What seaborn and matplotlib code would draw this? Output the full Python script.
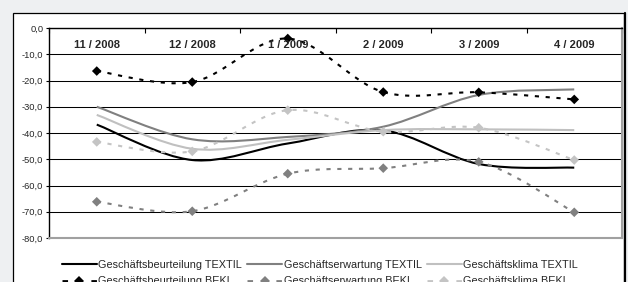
import numpy as np
import pandas as pd
import matplotlib
matplotlib.use("Agg")
import matplotlib.pyplot as plt
import seaborn as sns
from matplotlib.path import Path
from matplotlib.patches import PathPatch, Rectangle
from matplotlib.lines import Line2D
from matplotlib.ticker import FuncFormatter

# values
months = ["11 / 2008", "12 / 2008", "1 / 2009", "2 / 2009", "3 / 2009", "4 / 2009"]

beurteilung_textil = [-36.8, -50.3, -44.0, -39.0, -51.8, -53.2]
erwartung_textil = [-30.0, -42.4, -41.5, -37.6, -25.5, -23.4]
klima_textil = [-33.1, -46.0, -42.6, -38.9, -38.6, -38.9]

beurteilung_bekl = [-16.4, -20.6, -4.0, -24.4, -24.5, -27.2]
erwartung_bekl = [-66.2, -69.8, -55.5, -53.4, -51.0, -70.2]
klima_bekl = [-43.4, -47.0, -31.3, -39.5, -38.0, -50.3]

labels = [
    "Geschäftsbeurteilung TEXTIL", "Geschäftserwartung TEXTIL", "Geschäftsklima TEXTIL",
    "Geschäftsbeurteilung BEKL", "Geschäftserwartung BEKL", "Geschäftsklima BEKL",
]
values = [beurteilung_textil, erwartung_textil, klima_textil,
          beurteilung_bekl, erwartung_bekl, klima_bekl]
colors = ["#000000", "#808080", "#c0c0c0", "#000000", "#808080", "#c4c4c4"]
dashed = [False, False, False, True, True, True]

sns.set_theme(style="white")
plt.rcParams["font.family"] = ["Liberation Sans", "DejaVu Sans"]

DASH = (0, (2.0, 3.2))
LW = 1.5


def smooth_path(xs, ys):
    # Excel-like smoothed line: cubic Bezier through the points
    pts = np.column_stack([xs, ys]).astype(float)
    n = len(pts)
    verts = [pts[0]]
    codes = [Path.MOVETO]
    for i in range(n - 1):
        p0 = pts[max(i - 1, 0)]
        p1 = pts[i]
        p2 = pts[i + 1]
        p3 = pts[min(i + 2, n - 1)]
        verts += [p1 + (p2 - p0) / 6, p2 - (p3 - p1) / 6, p2]
        codes += [Path.CURVE4] * 3
    return Path(verts, codes)


fig = plt.figure(figsize=(6.28, 2.82), dpi=100, facecolor="#eef0f2")
W, H = 628, 282

# white chart area with frame
fig.patches.append(Rectangle((12.5 / W, -0.2), (624 - 12.5) / W, 1.2 - 12.5 / H,
                             transform=fig.transFigure, facecolor="white",
                             edgecolor="black", lw=0.9, zorder=-2))
fig.lines.append(Line2D([625 / W, 625 / W], [-0.1, 1 - 13 / H], transform=fig.transFigure,
                        color="black", lw=1.6, zorder=-1))

ax = fig.add_axes([49 / W, 1 - 238 / H, (622 - 49) / W, 210 / H])
ax.set_facecolor("white")

x = np.arange(len(months))
for vals, col, ds in zip(values, colors, dashed):
    patch = PathPatch(smooth_path(x, vals), fill=False, edgecolor=col, lw=LW,
                      linestyle=DASH if ds else "solid", capstyle="butt", zorder=3)
    ax.add_patch(patch)

# diamond markers on the BEKL series
df = pd.DataFrame({
    "pos": np.tile(x, 3),
    "value": beurteilung_bekl + erwartung_bekl + klima_bekl,
    "series": np.repeat(labels[3:], len(months)),
})
sns.scatterplot(data=df, x="pos", y="value", hue="series", palette=colors[3:],
                marker="D", s=24, linewidth=0, legend=False, ax=ax, zorder=4)

ax.set_xlim(-0.5, 5.5)
ax.set_ylim(-80, 0)
ax.set_xlabel("")
ax.set_ylabel("")

ax.set_yticks(np.arange(-80, 1, 10))
ax.yaxis.set_major_formatter(FuncFormatter(lambda v, p: f"{v:.1f}".replace(".", ",").replace("-0,0", "0,0")))
ax.tick_params(axis="y", direction="out", length=2.5, width=0.8, color="black",
               labelsize=6.7, pad=1.5, left=True)
ax.yaxis.grid(True, color="black", lw=0.75)
ax.xaxis.grid(False)
ax.set_axisbelow(True)

ax.xaxis.tick_top()
ax.set_xticks(np.arange(-0.5, 6, 1))
ax.set_xticklabels([])
ax.tick_params(axis="x", direction="in", length=3.6, width=0.8, color="black",
               top=True, bottom=False)

for i, m in enumerate(months):
    ax.text(i, 0.92, m, transform=ax.get_xaxis_transform(), ha="center", va="center",
            fontsize=8, fontweight="bold", zorder=5)

for side in ["top", "left"]:
    ax.spines[side].set_color("black")
    ax.spines[side].set_linewidth(1.0)
for side in ["right", "bottom"]:
    ax.spines[side].set_color("#a0a0a0")
    ax.spines[side].set_linewidth(1.5)

# legend: TEXTIL in first row, BEKL in second row
handles = []
for lab, col, ds in zip(labels, colors, dashed):
    if ds:
        handles.append(Line2D([], [], color=col, lw=2, linestyle=DASH, marker="D",
                              markersize=5, markeredgewidth=0))
    else:
        handles.append(Line2D([], [], color=col, lw=LW))
order = [0, 3, 1, 4, 2, 5]
fig.legend([handles[i] for i in order], [labels[i] for i in order], ncol=3,
           loc="upper left", bbox_to_anchor=(62 / W, 1 - 260 / H), frameon=False,
           fontsize=7.8, handlelength=3.2, handletextpad=0.15, columnspacing=0.5,
           labelspacing=0.6, borderpad=0, borderaxespad=0)

fig.savefig("out.png", dpi=100, facecolor=fig.get_facecolor())
